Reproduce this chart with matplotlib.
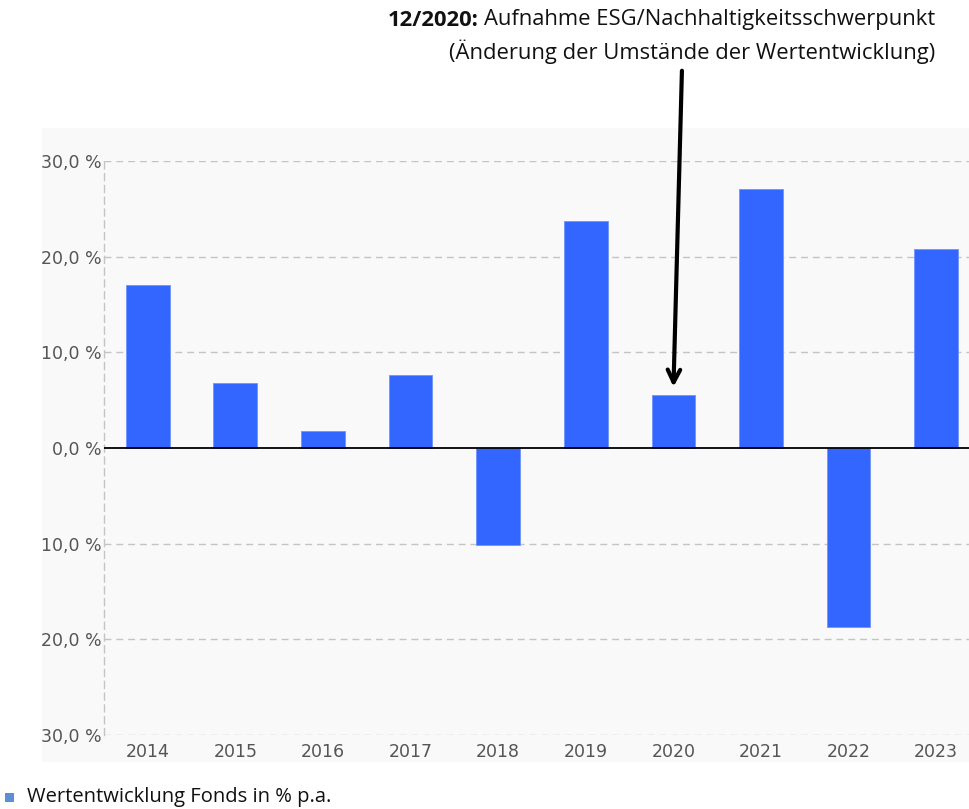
import matplotlib
matplotlib.use("Agg")
import matplotlib.pyplot as plt

years = ["2014", "2015", "2016", "2017", "2018", "2019", "2020", "2021", "2022", "2023"]
values = [17.0, 6.8, 1.8, 7.6, -10.1, 23.7, 5.5, 27.1, -18.7, 20.8]
yticks = [30, 20, 10, 0, -10, -20, -30]
ytick_labels = ["30,0 %", "20,0 %", "10,0 %", "0,0 %", "10,0 %", "20,0 %", "30,0 %"]
legend_label = "Wertentwicklung Fonds in % p.a."
annot_bold = "12/2020:"
annot_line1 = "Aufnahme ESG/Nachhaltigkeitsschwerpunkt"
annot_line2 = "(Änderung der Umstände der Wertentwicklung)"

W, H = 970, 809
fig = plt.figure(figsize=(W / 100, H / 100), dpi=100)
fig.patch.set_facecolor("white")

# light panel behind the chart
bg = fig.add_axes([42 / W, 1 - 762 / H, (W - 42) / W, (762 - 128) / H], zorder=0)
bg.set_facecolor("#f9f9f9")
bg.set_xticks([])
bg.set_yticks([])
for s in bg.spines.values():
    s.set_visible(False)

left, right = 104, 970
top, bottom = 161, 735
ax = fig.add_axes([left / W, 1 - bottom / H, (right - left) / W, (bottom - top) / H], zorder=1)
ax.patch.set_alpha(0.0)

x = list(range(len(years)))
ax.bar(x, values, width=0.5, color="#3366ff", edgecolor="#6f93ff", linewidth=0.6, zorder=3)

ax.set_ylim(-30, 30)
ax.set_xlim(-0.5, -0.5 + (right - left) / 87.6)
ax.set_yticks(yticks)
ax.set_yticklabels(ytick_labels, fontsize=12.5, color="#555555", family="DejaVu Sans")
ax.set_xticks(x)
ax.set_xticklabels(years, fontsize=12.5, color="#555555", family="DejaVu Sans")
ax.tick_params(axis="both", length=0, pad=2)
ax.tick_params(axis="x", pad=6)

dash = (0, (5, 3.5))
for yv in yticks:
    if yv != 0:
        ax.axhline(yv, color="#c4c4c4", linestyle=dash, linewidth=1.0, zorder=1)
ax.axhline(0, color="black", linewidth=1.3, zorder=4)
for s in ["top", "right", "bottom"]:
    ax.spines[s].set_visible(False)
ax.spines["left"].set_color("#c4c4c4")
ax.spines["left"].set_linestyle(dash)
ax.spines["left"].set_linewidth(1.0)

# annotation
fs = 15.8
t = fig.text(935 / W, 1 - 20 / H, annot_line1, ha="right", va="center", fontsize=fs,
             family="Open Sans", color="#111111")
fig.canvas.draw()
bb = t.get_window_extent()
fig.text(bb.x0 - 5, bb.y0 + bb.height / 2, annot_bold, ha="right", va="center",
         fontsize=fs, family="Open Sans", fontweight="bold", color="#111111",
         transform=None)
fig.text(935 / W, 1 - 52 / H, annot_line2, ha="right", va="center", fontsize=fs,
         family="Open Sans", color="#111111")

ax.annotate("", xy=(6, values[6] + 0.6), xycoords="data",
            xytext=(682 / W, 1 - 68 / H), textcoords="figure fraction",
            arrowprops=dict(arrowstyle="->,head_length=0.9,head_width=0.45",
                            color="black", lw=3), zorder=6, annotation_clip=False)

# legend
fig.patches.append(plt.Rectangle((5 / W, 1 - 802 / H), 9 / W, 9 / H, transform=fig.transFigure,
                                 facecolor="#5b8fd6", edgecolor="none"))
fig.text(27 / W, 1 - 797 / H, legend_label, ha="left", va="center", fontsize=14.5,
         family="Open Sans", color="#111111")

fig.savefig("out.png", dpi=100)
